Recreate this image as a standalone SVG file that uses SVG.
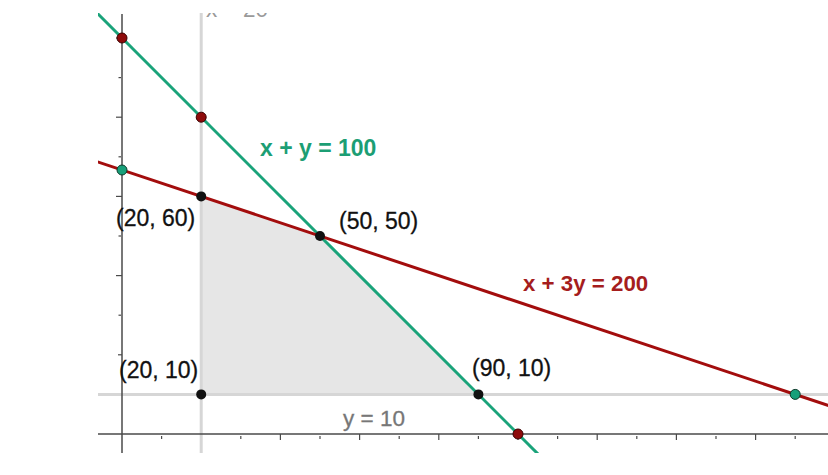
<svg xmlns="http://www.w3.org/2000/svg" width="828" height="475" viewBox="0 0 828 475">
<style>
.axis{stroke:#4a4a4a;stroke-width:1.5;fill:none}
.tick{stroke:#4a4a4a;stroke-width:1.2}
.grid{stroke:#d6d6d6;stroke-width:3;fill:none}
.lbl{font-family:"Liberation Sans",Arial,sans-serif;font-size:23px;fill:#111;stroke:#111;stroke-width:0.3}
.glbl{font-family:"Liberation Sans",Arial,sans-serif;font-size:23px;font-weight:bold;fill:#1c9e74}
.rlbl{font-family:"Liberation Sans",Arial,sans-serif;font-size:22.3px;font-weight:bold;fill:#a51d1d}
.gray{font-family:"Liberation Sans",Arial,sans-serif;font-size:22.5px;fill:#777;stroke:#777;stroke-width:0.3}
.pt{fill:#111}
.rpt{fill:#8e0b0b;stroke:#3a0000;stroke-width:1}
.gpt{fill:#17a07a;stroke:#0d3a2a;stroke-width:1}
</style>
<defs>
<clipPath id="view"><rect x="98" y="13" width="730" height="440"/></clipPath>
</defs>
<rect width="828" height="475" fill="#fff"/>
<g id="region" clip-path="url(#view)">
<polygon points="201.2,394.4 201.2,196.4 320,236 478.4,394.4" fill="#e6e6e6"/>
</g>
<g id="gridlines" clip-path="url(#view)">
<line class="grid" x1="201.2" y1="13" x2="201.2" y2="453"/>
<line class="grid" x1="98" y1="394.4" x2="828" y2="394.4"/>
</g>
<g id="axes" clip-path="url(#view)">
<line class="axis" x1="122" y1="14" x2="122" y2="453"/>
<line class="axis" x1="98" y1="434" x2="828" y2="434"/>
<g class="tick">
<line x1="161.6" y1="436" x2="161.6" y2="439"/>
<line x1="240.8" y1="436" x2="240.8" y2="439"/>
<line x1="280.4" y1="434" x2="280.4" y2="440"/>
<line x1="320" y1="436" x2="320" y2="439"/>
<line x1="359.6" y1="434" x2="359.6" y2="440"/>
<line x1="399.2" y1="436" x2="399.2" y2="439"/>
<line x1="438.8" y1="434" x2="438.8" y2="440"/>
<line x1="478.4" y1="436" x2="478.4" y2="439"/>
<line x1="518" y1="434" x2="518" y2="440"/>
<line x1="557.6" y1="436" x2="557.6" y2="439"/>
<line x1="597.2" y1="434" x2="597.2" y2="440"/>
<line x1="636.8" y1="436" x2="636.8" y2="439"/>
<line x1="676.4" y1="434" x2="676.4" y2="440"/>
<line x1="716" y1="436" x2="716" y2="439"/>
<line x1="755.6" y1="434" x2="755.6" y2="440"/>
<line x1="795.2" y1="436" x2="795.2" y2="439"/>
<line x1="118" y1="354.8" x2="122" y2="354.8"/>
<line x1="118.5" y1="315.2" x2="121" y2="315.2"/>
<line x1="116" y1="275.6" x2="122" y2="275.6"/>
<line x1="118.5" y1="236" x2="121" y2="236"/>
<line x1="116" y1="196.4" x2="122" y2="196.4"/>
<line x1="118.5" y1="156.8" x2="121" y2="156.8"/>
<line x1="116" y1="117.2" x2="122" y2="117.2"/>
<line x1="118.5" y1="77.6" x2="121" y2="77.6"/>
<line x1="116" y1="38" x2="122" y2="38"/>
</g>
</g>
<g id="connectors" clip-path="url(#view)">
<line id="line-xy100" x1="94.28" y1="10.28" x2="541.76" y2="457.76" stroke="#1aa37a" stroke-width="3"/>
<line id="line-x3y200" x1="94.28" y1="160.76" x2="834.8" y2="407.6" stroke="#a30d0d" stroke-width="3"/>
</g>
<g id="label-x20" clip-path="url(#view)">
<text x="206" y="16.8" font-family="Liberation Sans, Arial, sans-serif" font-size="22.5" fill="#9a9a9a">x = 20</text>
</g>
<g id="points">
<circle class="rpt" cx="122" cy="38" r="5"/>
<circle class="rpt" cx="201.2" cy="117.2" r="5"/>
<circle class="rpt" cx="518" cy="434" r="5"/>
<circle class="gpt" cx="122" cy="170" r="5"/>
<circle class="gpt" cx="795.2" cy="394.4" r="5"/>
</g>
<g id="node-20-60"><circle class="pt" cx="201.2" cy="196.4" r="5"/><text class="lbl" x="116" y="226">(20, 60)</text></g>
<g id="node-50-50"><circle class="pt" cx="320" cy="236" r="5"/><text class="lbl" x="339" y="229">(50, 50)</text></g>
<g id="node-20-10"><circle class="pt" cx="201.2" cy="394.4" r="5"/><text class="lbl" x="119" y="378">(20, 10)</text></g>
<g id="node-90-10"><circle class="pt" cx="478.4" cy="394.4" r="5"/><text class="lbl" x="472" y="376">(90, 10)</text></g>
<g id="labels">
<text class="glbl" x="260" y="156">x + y = 100</text>
<text class="rlbl" x="523" y="291">x + 3y = 200</text>
<text class="gray" x="343" y="426">y = 10</text>
</g>
</svg>
